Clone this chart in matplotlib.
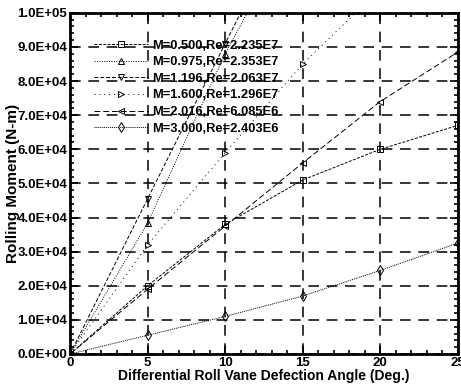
import matplotlib
matplotlib.use("Agg")
import matplotlib.pyplot as plt
from matplotlib.ticker import MultipleLocator, FuncFormatter

plt.rcParams['font.family'] = ['Liberation Sans', 'DejaVu Sans']
plt.rcParams['font.weight'] = 'bold'

# Data
angles = [0, 5, 10, 15, 20, 25]
labels = ['M=0.500,Re=2.235E7', 'M=0.975,Re=2.353E7', 'M=1.196,Re=2.063E7',
          'M=1.600,Re=1.296E7', 'M=2.016,Re=6.085E6', 'M=3.000,Re=2.403E6']
m0500 = [0, 20000, 38000, 51000, 60000, 67000]
m0975 = [0, 38400, 88000, 130000]
m1196 = [0, 45500, 91000, 136000]
m1600 = [0, 32000, 59000, 85000, 107000]
m2016 = [0, 19000, 37500, 56000, 74000, 88500]
m3000 = [0, 5500, 11000, 17000, 24500, 32500]

series = [m0500, m0975, m1196, m1600, m2016, m3000]
markers = ['s', '^', 'v', '>', '<', 'd']
styles = [(0, (3, 1.5)), (0, (1, 1.5)), (0, (4, 2)), (0, (1, 4)), (0, (6, 3)), (0, (1, 1))]

fig = plt.figure(figsize=(4.61, 3.89), dpi=100)
ax = fig.add_axes([0.152, 0.09, 0.841, 0.877])

for vals, lab, mk, ls in zip(series, labels, markers, styles):
    ax.plot(angles[:len(vals)], vals, color='black', lw=0.7, linestyle=ls,
            marker=mk, markersize=5, markerfacecolor='none', markeredgewidth=0.7,
            label=lab)

ax.set_xlim(0, 25)
ax.set_ylim(0, 100000)
ax.xaxis.set_major_locator(MultipleLocator(5))
ax.xaxis.set_minor_locator(MultipleLocator(1))
ax.yaxis.set_major_locator(MultipleLocator(10000))
ax.yaxis.set_minor_locator(MultipleLocator(2000))
ax.yaxis.set_major_formatter(FuncFormatter(lambda v, p: f'{v:.1E}'))

ax.grid(True, which='major', color='black', linestyle=(0, (7, 5)), lw=1.1)
ax.tick_params(which='both', direction='in', top=True, right=True, width=1.2)
ax.tick_params(which='major', length=6, labelsize=9.5, pad=2)
ax.tick_params(which='minor', length=3)
for sp in ax.spines.values():
    sp.set_linewidth(2)

ax.set_xlabel('Differential Roll Vane Defection Angle (Deg.)', fontsize=10,
              fontweight='bold', labelpad=0)
fig.text(13 / 461, 1 - 183 / 389, 'Rolling Moment (N-m)', rotation=90,
         fontsize=11, fontweight='bold', ha='center', va='center')

ax.legend(loc='upper left', bbox_to_anchor=(0.045, 0.94), frameon=False,
          fontsize=9.3, handlelength=4.2, numpoints=1, labelspacing=0.35,
          handletextpad=0.3, borderpad=0)

fig.savefig('out.png', dpi=100)
